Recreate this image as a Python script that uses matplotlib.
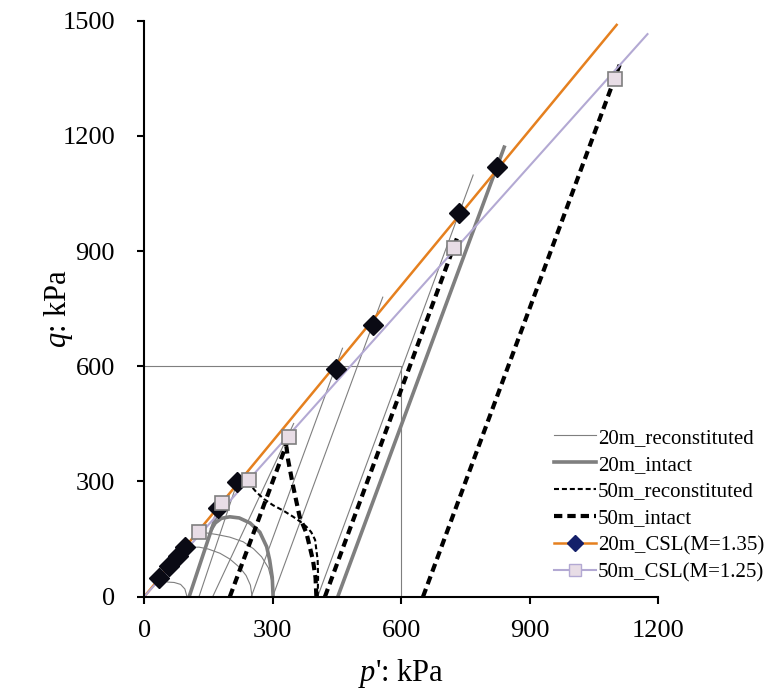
import matplotlib
matplotlib.use('Agg')
import matplotlib.pyplot as plt
from matplotlib.lines import Line2D

# critical state lines and failure points
csl20_p = [0, 1103]
csl20_q = [0, 1489]
csl50_p = [0, 1175]
csl50_q = [0, 1465]
fail20_p = [35, 58, 78, 96, 172, 216, 447, 534, 735, 823]
fail20_q = [48, 80, 106, 130, 231, 298, 592, 707, 1000, 1120]
fail50_p = [128, 182, 244, 338, 723, 1100]
fail50_q = [169, 243, 304, 416, 907, 1348]

# 20m reconstituted stress paths (p', q)
r20_paths = [
    ([128, 218], [0, 300]),
    ([160, 349], [0, 451]),
    ([250, 463], [0, 647]),
    ([300, 557], [0, 780]),
    ([405, 768], [0, 1098]),
    ([100, 95, 85, 70, 55, 40], [0, 20, 32, 37, 38, 45]),
    ([252, 248, 238, 224, 200, 177, 150, 128, 100], [0, 30, 55, 75, 98, 113, 124, 129, 128]),
    ([300, 298, 290, 274, 255, 231, 200, 169, 145, 128], [0, 40, 75, 104, 125, 143, 155, 162, 166, 169]),
]

# 20m intact stress paths
i20_paths = [
    ([105, 175], [0, 235]),
    ([452, 842], [0, 1175]),
    ([301, 299, 293, 286, 270, 247, 222, 200, 180, 166, 156],
     [0, 50, 95, 130, 168, 192, 205, 208, 204, 192, 174]),
]

# 50m reconstituted stress paths
r50_paths = [
    ([405, 406, 405, 399, 390, 379, 365, 348, 325, 301, 280, 262, 250, 241],
     [0, 50, 95, 148, 168, 182, 195, 208, 224, 238, 254, 272, 288, 298]),
]

# 50m intact stress paths
i50_paths = [
    ([200, 340], [0, 420]),
    ([422, 733], [0, 942]),
    ([651, 1110], [0, 1385]),
    ([402, 400, 394, 379, 363, 348, 336, 332], [0, 50, 95, 165, 208, 286, 356, 391]),
]

# reference box at 600 kPa
box_p = [0, 600, 600]
box_q = [600, 600, 0]

orange = '#E5801F'
lilac = '#B3A9D3'
grey = '#7F7F7F'

plt.rcParams['font.family'] = 'Liberation Serif'
plt.rcParams['mathtext.fontset'] = 'custom'
plt.rcParams['mathtext.it'] = 'Liberation Serif:italic'
plt.rcParams['mathtext.rm'] = 'Liberation Serif'

fig = plt.figure(figsize=(7.71, 6.91), dpi=100)
ax = fig.add_axes([0.187, 0.1365, 0.6667, 0.8336])

ax.plot(box_p, box_q, color=grey, lw=0.8)

for p, q in r20_paths:
    ax.plot(p, q, color=grey, lw=0.8)
for p, q in i20_paths:
    ax.plot(p, q, color=grey, lw=2.6, solid_capstyle='butt')
for p, q in r50_paths:
    ax.plot(p, q, color='black', lw=1.5, dashes=(2.4, 1.4))
for p, q in i50_paths:
    ax.plot(p, q, color='black', lw=3.0, dashes=(2.0, 1.2))

ax.plot(csl20_p, csl20_q, color=orange, lw=1.8)
ax.plot(csl50_p, csl50_q, color=lilac, lw=1.5)
ax.plot(fail20_p, fail20_q, ls='none', marker='D', ms=10, color='#0A0A14', mec='#0A0A14')
ax.plot(fail50_p, fail50_q, ls='none', marker='s', ms=10, mfc='#E8DDE6', mec=grey, mew=1.2)

ax.set_xlim(0, 1200)
ax.set_ylim(0, 1500)
ax.set_xticks([0, 300, 600, 900, 1200])
ax.set_yticks([0, 300, 600, 900, 1200, 1500])
ax.spines['top'].set_visible(False)
ax.spines['right'].set_visible(False)
for s in ['left', 'bottom']:
    ax.spines[s].set_linewidth(1.5)
ax.tick_params(direction='out', length=5, width=1.5, labelsize=19)
ax.tick_params(axis='y', pad=16)
ax.tick_params(axis='x', pad=12)
ax.set_xlabel("$p$': kPa", fontsize=22)
ax.set_ylabel("$q$: kPa", fontsize=22)
ax.xaxis.set_label_coords(0.5, -0.105)
ax.yaxis.set_label_coords(-0.134, 0.5)

handles = [
    Line2D([], [], color=grey, lw=0.8),
    Line2D([], [], color=grey, lw=2.6),
    Line2D([], [], color='black', lw=1.5, dashes=(2.4, 1.4)),
    Line2D([], [], color='black', lw=3.0, dashes=(2.0, 1.2)),
    Line2D([], [], color=orange, lw=1.8, marker='D', ms=8, mfc='#14206A', mec='#14206A'),
    Line2D([], [], color=lilac, lw=1.5, marker='s', ms=9, mfc='#E8DDE6', mec=lilac),
]
labels = ['20m_reconstituted', '20m_intact', '50m_reconstituted', '50m_intact',
          '20m_CSL(M=1.35)', '50m_CSL(M=1.25)']
ax.legend(handles, labels, loc='lower right', bbox_to_anchor=(1.235, 0.0), frameon=False,
          fontsize=15, handlelength=2.0, handletextpad=0.1, labelspacing=0.35, borderpad=0.2)

fig.savefig('out.png', dpi=100)
